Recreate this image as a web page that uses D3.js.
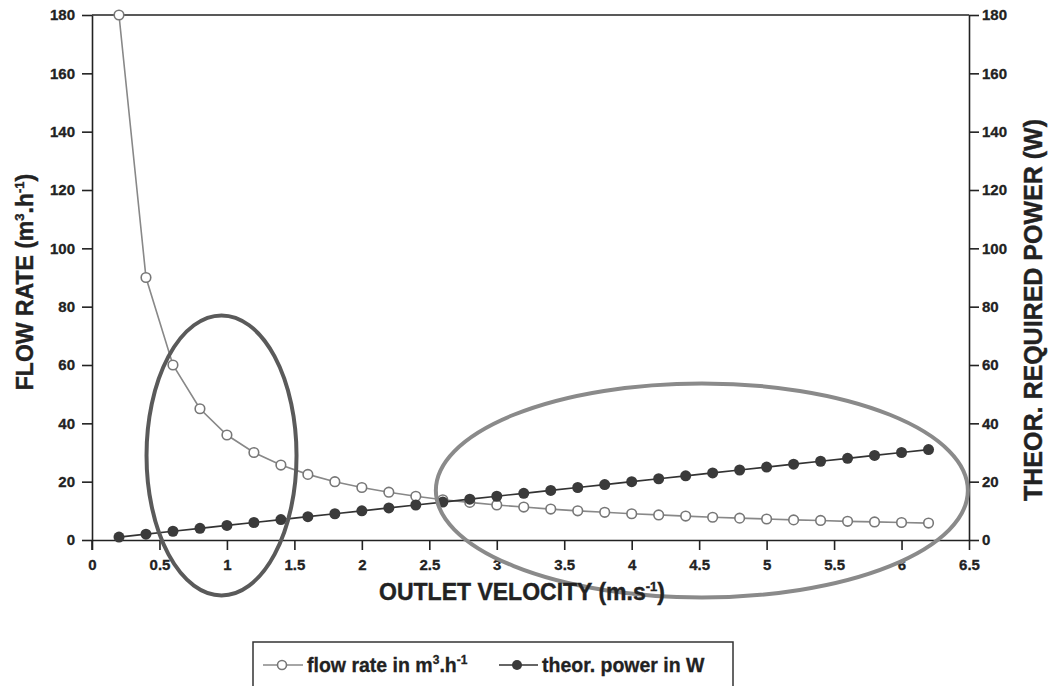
<!DOCTYPE html>
<html lang="en">
  <head>
    <meta charset="UTF-8" />
    <title>Flow rate and power vs outlet velocity</title>
    <script src="https://d3js.org/d3.v7.min.js"></script>
    <style>
      body {
        margin: 0;
        background: #fff;
        font-family: 'Liberation Sans', Arial, Helvetica, sans-serif;
      }
      .tick text {
        font-size: 15px;
        font-weight: bold;
        fill: #222;
        stroke: #222;
        stroke-width: 0.3px;
      }
      .axis-title {
        font-size: 23px;
        font-weight: bold;
        fill: #222;
        stroke: #222;
        stroke-width: 0.4px;
      }
      .legend-text {
        font-size: 19.5px;
        font-weight: bold;
        fill: #222;
        stroke: #222;
        stroke-width: 0.3px;
      }
    </style>
  </head>
  <body>
    <script>
      // outlet velocity (m/s)
      const velocity = [0.2, 0.4, 0.6, 0.8, 1.0, 1.2, 1.4, 1.6, 1.8, 2.0, 2.2, 2.4, 2.6, 2.8, 3.0, 3.2,
        3.4, 3.6, 3.8, 4.0, 4.2, 4.4, 4.6, 4.8, 5.0, 5.2, 5.4, 5.6, 5.8, 6.0, 6.2];
      // flow rate m3/h
      const flowRate = [180, 90, 60, 45, 36, 30, 25.7, 22.5, 20, 18, 16.4, 15, 13.8, 12.9, 12, 11.3,
        10.6, 10, 9.5, 9, 8.6, 8.2, 7.8, 7.5, 7.2, 6.9, 6.7, 6.4, 6.2, 6, 5.8];
      // theoretical required power W
      const power = [1, 2, 3, 4, 5, 6, 7, 8, 9, 10, 11, 12, 13, 14, 15, 16,
        17, 18, 19, 20, 21, 22, 23, 24, 25, 26, 27, 28, 29, 30, 31];
      const xTicks = [0, 0.5, 1, 1.5, 2, 2.5, 3, 3.5, 4, 4.5, 5, 5.5, 6, 6.5];
      const yTicks = [0, 20, 40, 60, 80, 100, 120, 140, 160, 180];

      const W = 1048, H = 686;
      const margin = { top: 15, right: 79, bottom: 146, left: 92 };
      const width = W - margin.left - margin.right;
      const height = H - margin.top - margin.bottom;

      const svg = d3.select('body').append('svg').attr('width', W).attr('height', H);
      const g = svg.append('g').attr('transform', `translate(${margin.left},${margin.top})`);

      const x = d3.scaleLinear().domain([0, 6.5]).range([0, width]);
      const yL = d3.scaleLinear().domain([0, 180]).range([height, 0]);
      const yR = d3.scaleLinear().domain([0, 180]).range([height, 0]);

      const fmt = (d) => String(d);

      // top frame line
      g.append('line').attr('x1', 0).attr('x2', width).attr('y1', 0).attr('y2', 0)
        .attr('stroke', '#222').attr('stroke-width', 1.6);

      const styleAxis = (sel) => {
        sel.selectAll('path').attr('stroke', '#222').attr('stroke-width', 1.6);
        sel.selectAll('line').attr('stroke', '#222').attr('stroke-width', 1.6);
        sel.attr('font-family', null).attr('font-size', null);
      };

      g.append('g')
        .attr('transform', `translate(0,${height})`)
        .call(d3.axisBottom(x).tickValues(xTicks).tickFormat(fmt).tickSize(10).tickSizeOuter(0).tickPadding(9))
        .call(styleAxis);

      g.append('g')
        .call(d3.axisLeft(yL).tickValues(yTicks).tickFormat(fmt).tickSize(10).tickSizeOuter(0).tickPadding(7))
        .call(styleAxis);

      // left axis runs down to the bottom tick length
      g.append('line').attr('x1', 0).attr('x2', 0).attr('y1', height).attr('y2', height + 10)
        .attr('stroke', '#222').attr('stroke-width', 1.6);

      g.append('g')
        .attr('transform', `translate(${width},0)`)
        .call(d3.axisRight(yR).tickValues(yTicks).tickFormat(fmt).tickSize(10).tickSizeOuter(0).tickPadding(3))
        .call(styleAxis);

      // axis titles
      const xTitle = svg.append('text').attr('class', 'axis-title')
        .attr('x', 522).attr('y', 600).attr('text-anchor', 'middle');
      xTitle.append('tspan').text('OUTLET VELOCITY (m.s');
      xTitle.append('tspan').attr('dy', -9).attr('font-size', 13).text('-1');
      xTitle.append('tspan').attr('dy', 9).text(')');

      const yTitle = svg.append('text').attr('class', 'axis-title')
        .attr('transform', 'translate(33,282) rotate(-90)')
        .attr('text-anchor', 'middle');
      yTitle.append('tspan').text('FLOW RATE (m');
      yTitle.append('tspan').attr('dy', -9).attr('font-size', 13).text('3');
      yTitle.append('tspan').attr('dy', 9).text('.h');
      yTitle.append('tspan').attr('dy', -9).attr('font-size', 13).text('-1');
      yTitle.append('tspan').attr('dy', 9).text(')');

      svg.append('text').attr('class', 'axis-title')
        .attr('transform', 'translate(1042,310) rotate(-90)')
        .attr('text-anchor', 'middle')
        .style('font-size', '25px')
        .text('THEOR. REQUIRED POWER (W)');

      // series
      const flowData = velocity.map((v, i) => ({ v, y: flowRate[i] }));
      const powerData = velocity.map((v, i) => ({ v, y: power[i] }));

      const line = (scale) => d3.line().x((d) => x(d.v)).y((d) => scale(d.y));

      g.append('path').datum(flowData).attr('d', line(yL))
        .attr('fill', 'none').attr('stroke', '#888').attr('stroke-width', 1.6);
      g.append('g').selectAll('circle').data(flowData).join('circle')
        .attr('cx', (d) => x(d.v)).attr('cy', (d) => yL(d.y)).attr('r', 4.8)
        .attr('fill', '#fff').attr('stroke', '#777').attr('stroke-width', 1.6);

      g.append('path').datum(powerData).attr('d', line(yR))
        .attr('fill', 'none').attr('stroke', '#333').attr('stroke-width', 1.6);
      g.append('g').selectAll('circle').data(powerData).join('circle')
        .attr('cx', (d) => x(d.v)).attr('cy', (d) => yR(d.y)).attr('r', 5.5)
        .attr('fill', '#3a3a3a');

      // highlight ellipses (drawn over the data)
      g.append('ellipse')
        .attr('cx', x(0.96)).attr('cy', yL(29)).attr('rx', 75).attr('ry', 140)
        .attr('fill', 'none').attr('stroke', '#5a5a5a').attr('stroke-width', 4);
      g.append('ellipse')
        .attr('cx', x(4.52)).attr('cy', yL(17)).attr('rx', 266).attr('ry', 107)
        .attr('fill', 'none').attr('stroke', '#8a8a8a').attr('stroke-width', 4);

      // legend
      const legend = svg.append('g');
      legend.append('rect').attr('x', 253).attr('y', 642).attr('width', 480).attr('height', 60)
        .attr('fill', '#fff').attr('stroke', '#333').attr('stroke-width', 1.5);

      legend.append('line').attr('x1', 263).attr('x2', 303).attr('y1', 665).attr('y2', 665)
        .attr('stroke', '#888').attr('stroke-width', 1.6);
      legend.append('circle').attr('cx', 282).attr('cy', 665).attr('r', 4.5)
        .attr('fill', '#fff').attr('stroke', '#777').attr('stroke-width', 1.6);
      const t1 = legend.append('text').attr('class', 'legend-text').attr('x', 307).attr('y', 672);
      t1.append('tspan').text('flow rate in m');
      t1.append('tspan').attr('dy', -8).attr('font-size', 12).text('3');
      t1.append('tspan').attr('dy', 8).text('.h');
      t1.append('tspan').attr('dy', -8).attr('font-size', 12).text('-1');

      legend.append('line').attr('x1', 499).attr('x2', 538).attr('y1', 665).attr('y2', 665)
        .attr('stroke', '#333').attr('stroke-width', 1.6);
      legend.append('circle').attr('cx', 517).attr('cy', 665).attr('r', 5)
        .attr('fill', '#3a3a3a');
      legend.append('text').attr('class', 'legend-text').attr('x', 542).attr('y', 672)
        .text('theor. power in W');
    </script>
  </body>
</html>
